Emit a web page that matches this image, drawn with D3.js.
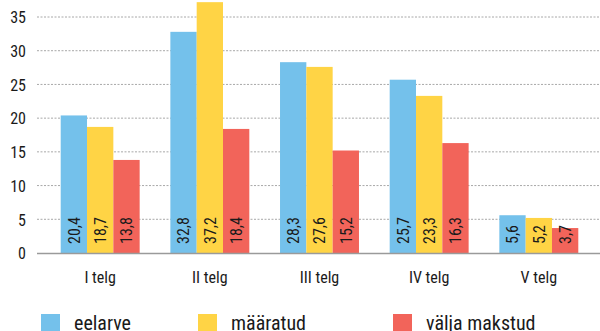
<!DOCTYPE html>
<html>
<head>
<meta charset="utf-8">
<script src="https://cdn.jsdelivr.net/npm/d3@7"></script>
<style>
  html, body { margin: 0; padding: 0; background: #fff; }
  svg { display: block; }
  text { font-family: "Roboto Condensed", "Liberation Sans Narrow", "DejaVu Sans Condensed", sans-serif; fill: #1a1a1a; }
</style>
</head>
<body>
<svg id="chart" width="600" height="331"></svg>
<script>
// Axes (priority axes) and the three budget series, in millions
const categories = ["I telg", "II telg", "III telg", "IV telg", "V telg"];
const seriesNames = ["eelarve", "määratud", "välja makstud"];
const eelarve = [20.4, 32.8, 28.3, 25.7, 5.6];
const maaratud = [18.7, 37.2, 27.6, 23.3, 5.2];
const valjaMakstud = [13.8, 18.4, 15.2, 16.3, 3.7];
const yTicks = [0, 5, 10, 15, 20, 25, 30, 35];
const colors = ["#74C1EB", "#FFD445", "#F2645A"];

const series = [eelarve, maaratud, valjaMakstud];
const fmt = v => v.toFixed(1).replace(".", ",");

const svg = d3.select("#chart");
const baseY = 253, topY = 17;

const y = d3.scaleLinear().domain([0, 35]).range([baseY, topY]);
const x0 = d3.scaleBand().domain(categories).range([30, 609]).padding(0.28);
const x1 = d3.scaleBand().domain(d3.range(series.length)).range([0, x0.bandwidth()]);

// Dotted grid lines
svg.append("g")
  .selectAll("line")
  .data(yTicks.filter(t => t > 0))
  .join("line")
  .attr("x1", 37).attr("x2", 600)
  .attr("y1", d => y(d)).attr("y2", d => y(d))
  .attr("stroke", "#a8a8a8")
  .attr("stroke-width", 1)
  .attr("stroke-dasharray", "2,1.5");

// Y axis labels
const yAxis = d3.axisLeft(y).tickValues(yTicks).tickSize(0).tickPadding(0);
svg.append("g")
  .attr("transform", "translate(26,0)")
  .call(yAxis)
  .call(g => g.select(".domain").remove())
  .call(g => g.selectAll("text")
    .attr("font-size", 16)
    .attr("dy", "0.36em")
    .style("font-family", null));

// Bars
const groups = svg.append("g")
  .selectAll("g")
  .data(categories)
  .join("g")
  .attr("transform", d => `translate(${x0(d)},0)`);

groups.selectAll("rect")
  .data((c, i) => series.map((s, k) => ({ k, v: s[i] })))
  .join("rect")
  .attr("x", d => x1(d.k))
  .attr("width", x1.bandwidth())
  .attr("y", d => y(d.v))
  .attr("height", d => baseY - y(d.v))
  .attr("fill", d => colors[d.k]);

// Value labels, rotated, reading upward from the base
groups.selectAll("text.val")
  .data((c, i) => series.map((s, k) => ({ k, v: s[i] })))
  .join("text")
  .attr("class", "val")
  .attr("transform", d => `translate(${x1(d.k) + x1.bandwidth() / 2},${baseY - 9}) rotate(-90)`)
  .attr("dy", "0.36em")
  .attr("font-size", 16)
  .text(d => fmt(d.v));

// Baseline
svg.append("line")
  .attr("x1", 37).attr("x2", 600)
  .attr("y1", baseY + 0.5).attr("y2", baseY + 0.5)
  .attr("stroke", "#9a9a9a")
  .attr("stroke-width", 1.5);

// Category labels
const xAxis = d3.axisBottom(x0).tickSize(0).tickPadding(0);
svg.append("g")
  .attr("transform", `translate(0,${baseY})`)
  .call(xAxis)
  .call(g => g.select(".domain").remove())
  .call(g => g.selectAll("text")
    .attr("font-size", 16)
    .attr("dy", null)
    .attr("y", 30)
    .style("font-family", null));

// Legend
const legendX = [41, 198, 393];
const legend = svg.append("g")
  .selectAll("g")
  .data(seriesNames)
  .join("g")
  .attr("transform", (d, i) => `translate(${legendX[i]},314)`);
legend.append("rect")
  .attr("width", 19).attr("height", 19)
  .attr("fill", (d, i) => colors[i]);
legend.append("text")
  .attr("x", 33).attr("y", 16)
  .attr("font-size", 20)
  .text(d => d);
</script>
</body>
</html>
